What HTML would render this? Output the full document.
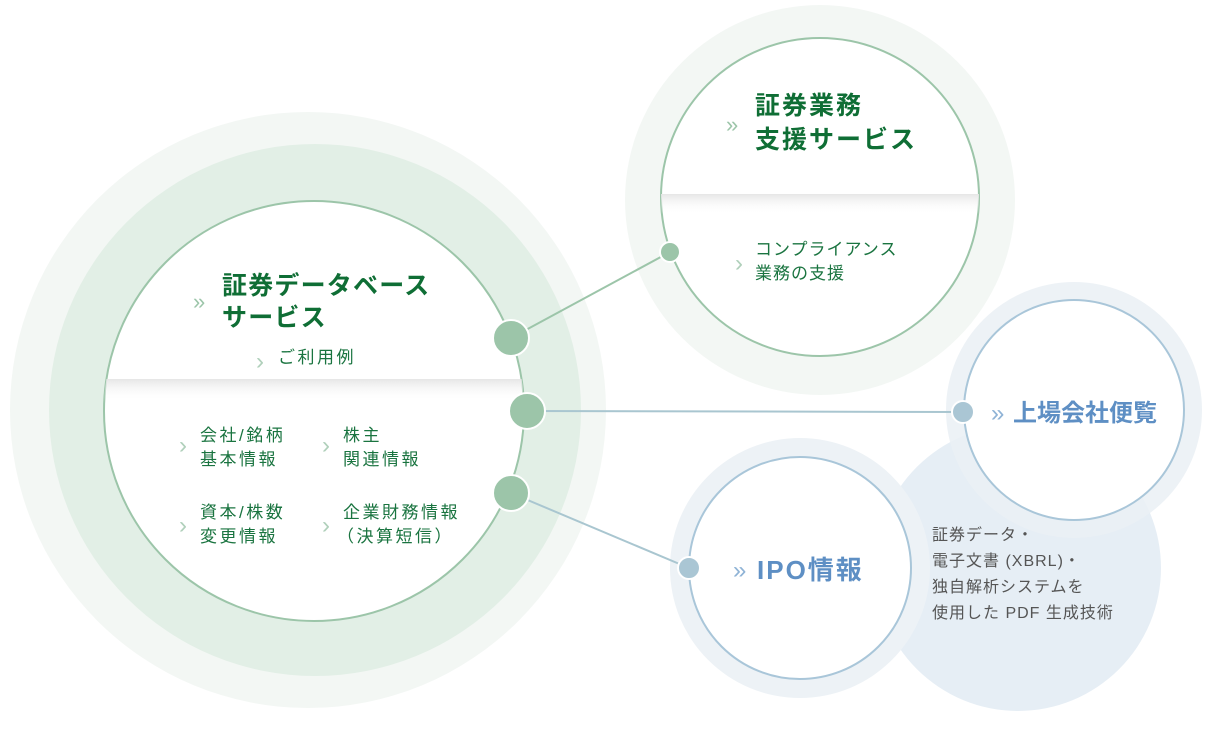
<!DOCTYPE html>
<html><head><meta charset="utf-8"><style>
html,body{margin:0;padding:0;background:#fff;}
svg{display:block;}
text{font-family:"Liberation Sans","Noto Sans CJK JP",sans-serif;}
</style></head><body>
<svg width="1212" height="733" viewBox="0 0 1212 733" xmlns="http://www.w3.org/2000/svg">
<defs>
<linearGradient id="sh" x1="0" y1="0" x2="0" y2="1">
<stop offset="0" stop-color="#e6e6e6"/><stop offset="1" stop-color="#ffffff" stop-opacity="0"/>
</linearGradient>
<clipPath id="c1"><circle cx="314" cy="411" r="210"/></clipPath>
<clipPath id="c2"><circle cx="820" cy="197" r="159"/></clipPath>
</defs>
<circle cx="308" cy="410" r="298" fill="#f3f7f4"/>
<circle cx="315" cy="410" r="266" fill="#e2efe6"/>
<circle cx="314" cy="411" r="210" fill="#fff" stroke="#9cc5a9" stroke-width="2"/>
<rect x="100" y="379" width="430" height="22" fill="url(#sh)" clip-path="url(#c1)"/>
<circle cx="820" cy="200" r="195" fill="#f3f7f4"/>
<circle cx="820" cy="197" r="159" fill="#fff" stroke="#9cc5a9" stroke-width="2"/>
<rect x="655" y="194" width="330" height="20" fill="url(#sh)" clip-path="url(#c2)"/>
<circle cx="1018" cy="568" r="143" fill="#e6eef5"/>
<circle cx="1074" cy="410" r="128" fill="#eaf0f5" opacity="0.85"/>
<circle cx="800" cy="568" r="130" fill="#edf2f6"/>
<circle cx="1074" cy="410" r="110" fill="#fff" stroke="#a9c6d9" stroke-width="2"/>
<circle cx="800" cy="568" r="111" fill="#fff" stroke="#a9c6d9" stroke-width="2"/>
<line x1="511" y1="338" x2="670" y2="252" stroke="#9cc5a9" stroke-width="2"/>
<line x1="527" y1="411" x2="963" y2="412" stroke="#a9c6d0" stroke-width="2"/>
<line x1="511" y1="493" x2="689" y2="568" stroke="#a9c6d0" stroke-width="2"/>
<circle cx="511" cy="338" r="18" fill="#9cc5a9" stroke="#fff" stroke-width="2"/>
<circle cx="527" cy="411" r="18" fill="#9cc5a9" stroke="#fff" stroke-width="2"/>
<circle cx="511" cy="493" r="18" fill="#9cc5a9" stroke="#fff" stroke-width="2"/>
<circle cx="670" cy="252" r="10" fill="#9cc5a9" stroke="#fff" stroke-width="2"/>
<circle cx="963" cy="412" r="11" fill="#aac6d4" stroke="#fff" stroke-width="2"/>
<circle cx="689" cy="568" r="11" fill="#aac6d4" stroke="#fff" stroke-width="2"/>
<g fill="#0f6e35" font-weight="bold" font-size="25" letter-spacing="1.2">
<text x="222" y="294">証券データベース</text>
<text x="222" y="326">サービス</text>
<text x="755" y="114" letter-spacing="2">証券業務</text>
<text x="755" y="148" letter-spacing="2">支援サービス</text>
</g>
<g fill="#9cc5a9" font-size="22">
<text x="193" y="309">»</text>
<text x="726" y="132">»</text>
</g>
<g fill="#b0d0bb" font-size="24">
<text x="256" y="369">›</text>
<text x="179" y="453">›</text>
<text x="322" y="453">›</text>
<text x="179" y="533">›</text>
<text x="322" y="533">›</text>
<text x="735" y="271">›</text>
</g>
<g fill="#1a7440" font-size="17" letter-spacing="2.5">
<text x="278" y="363">ご利用例</text>
<text x="200" y="441">会社/銘柄</text>
<text x="200" y="465">基本情報</text>
<text x="343" y="441">株主</text>
<text x="343" y="465">関連情報</text>
<text x="200" y="518">資本/株数</text>
<text x="200" y="542">変更情報</text>
<text x="343" y="518">企業財務情報</text>
<text x="337" y="542">（決算短信）</text>
<text x="755" y="255" letter-spacing="1">コンプライアンス</text>
<text x="755" y="279" letter-spacing="1">業務の支援</text>
</g>
<g fill="#5e8fc4" font-weight="bold" font-size="24">
<text x="1013" y="421">上場会社便覧</text>
<text x="757" y="579" font-size="26" letter-spacing="2">IPO情報</text>
</g>
<g fill="#8fb3d6" font-size="24">
<text x="991" y="421">»</text>
<text x="733" y="578">»</text>
</g>
<g fill="#555" font-size="16" letter-spacing="1">
<text x="932" y="540">証券データ・</text>
<text x="932" y="566">電子文書 (XBRL)・</text>
<text x="932" y="592">独自解析システムを</text>
<text x="932" y="618">使用した PDF 生成技術</text>
</g>
</svg>
</body></html>
